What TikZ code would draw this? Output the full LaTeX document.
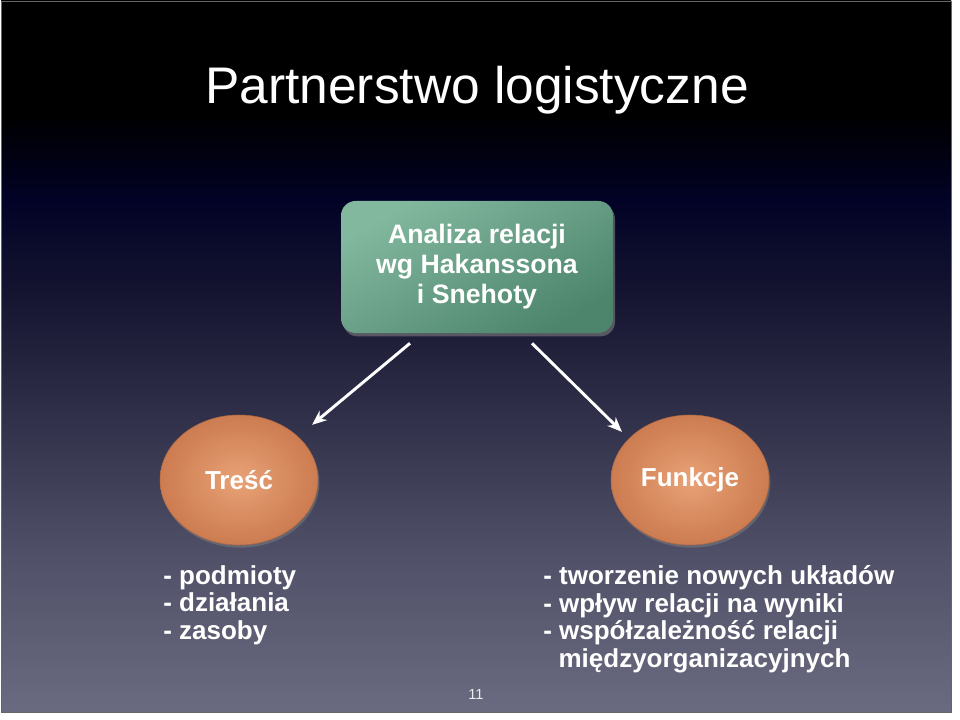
\documentclass[tikz,border=0pt]{standalone}
\usepackage{fontspec}
\setmainfont{Liberation Sans}
\usetikzlibrary{arrows.meta,positioning,shapes.geometric,shadows}
\definecolor{bgbottom}{RGB}{106,106,128}
\definecolor{bglow}{RGB}{80,80,104}
\definecolor{bgmid}{RGB}{44,44,70}
\definecolor{bgdusk}{RGB}{22,22,50}
\definecolor{bgnavy}{RGB}{2,2,38}
\definecolor{boxlight}{RGB}{130,184,158}
\definecolor{boxdark}{RGB}{76,132,108}
\definecolor{orlight}{RGB}{232,162,118}
\definecolor{ordark}{RGB}{204,124,80}
\pgfdeclareverticalshading{slidebg}{100bp}{color(0bp)=(bgbottom); color(25bp)=(bgbottom);
  color(36bp)=(bglow); color(47bp)=(bgmid); color(54bp)=(bgdusk); color(61bp)=(bgnavy);
  color(67bp)=(black); color(100bp)=(black)}

\begin{document}
\begin{tikzpicture}[x=0.75pt, y=-0.75pt,
  topbox/.style={rectangle, rounded corners=11pt, minimum width=204pt, minimum height=99pt,
                 top color=boxlight, bottom color=boxdark, shading angle=30,
                 font=\fontsize{20}{22.5}\selectfont\bfseries, text=white, align=center,
                 drop shadow={shadow xshift=1.5pt, shadow yshift=-2.5pt, opacity=.6}},
  topic/.style={ellipse, minimum width=118.5pt, minimum height=97.5pt, inner sep=0pt,
                inner color=orlight, outer color=ordark, draw=ordark!85!black, thin,
                font=\fontsize{19.5}{22}\selectfont\bfseries, text=white,
                drop shadow={shadow xshift=1pt, shadow yshift=-2pt, opacity=.5}},
  list/.style={anchor=north west, inner sep=0pt, align=left, text=white,
               font=\fontsize{19.5}{20.8}\selectfont\bfseries},
  arr/.style={-{Stealth[length=11pt, width=9pt]}, line width=2.2pt, draw=white}
]
\useasboundingbox (0,0) rectangle (960,720);
% Slide background
\fill[white] (0,0) rectangle (960,720);
\path[shading=slidebg, draw=black!60, line width=0.6pt] (1,1) rectangle (951,712);

% Title
\node[text=white, font=\fontsize{38.6}{44}\selectfont] (title) at (477,90) {Partnerstwo logistyczne};

% Analysis box
\node[topbox] (anal) at (477,267) {Analiza relacji\\wg Hakanssona\\i Snehoty};

% Two topics
\node[topic] (tresc) at (239,480) {Treść};
\node[topic] (funk) at (690,480) {Funkcje};

% Lists under the topics
\node[list] (trescl) at (163,565) {- podmioty\\- działania\\- zasoby};
\node[list] (funkl) at (543,565)
  {- tworzenie nowych układów\\- wpływ relacji na wyniki\\- współzależność relacji\\\hspace*{11.5pt}międzyorganizacyjnych};

% Arrows
\draw[arr] ([xshift=-50.25pt, yshift=-7.5pt]anal.south) -- ([xshift=12.75pt, yshift=6.75pt]tresc.north east);
\draw[arr] ([xshift=41.25pt, yshift=-7.5pt]anal.south) -- ([xshift=-9pt, yshift=1.5pt]funk.north west);

% Page number
\node[text=white!85!gray, font=\fontsize{11}{13}\selectfont] (pnum) at (476,694) {11};
\end{tikzpicture}
\end{document}
